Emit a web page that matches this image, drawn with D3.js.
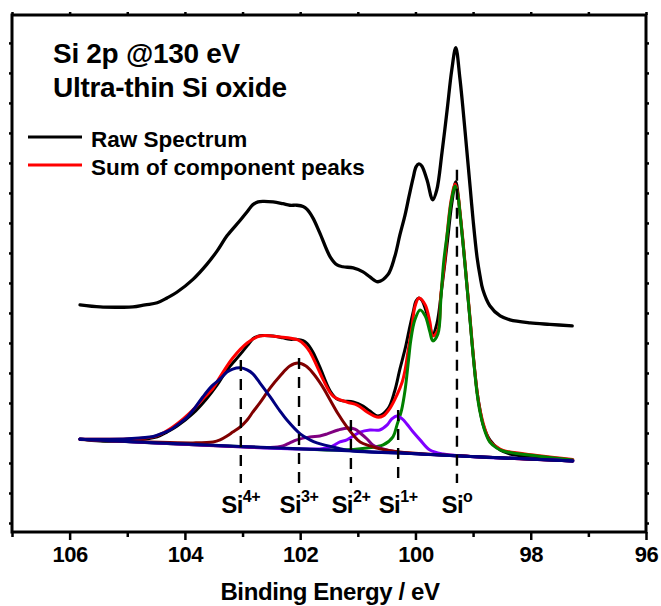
<!DOCTYPE html>
<html>
<head>
<meta charset="utf-8">
<script src="https://cdn.jsdelivr.net/npm/d3@7/dist/d3.min.js"></script>
<style>
  html, body { margin: 0; padding: 0; background: #fff; }
  svg { display: block; font-family: "Liberation Sans", Arial, sans-serif; font-weight: bold; }
</style>
</head>
<body>
<svg id="chart" width="661" height="606"></svg>
<script>
// Si 2p core-level spectrum of an ultra-thin Si oxide: binding energy (eV) vs intensity (a.u.)

// measured spectrum [binding energy, intensity]
const rawSpectrum = [
  [105.82,2.80],[105.47,2.73],[105.13,2.72],[104.90,2.73],[104.69,2.80],[104.48,2.87],[104.31,3.03],
  [104.14,3.22],[103.86,3.65],[103.62,4.15],[103.44,4.60],[103.27,5.10],[103.04,5.62],[102.91,5.93],
  [102.82,6.14],[102.73,6.23],[102.65,6.25],[102.47,6.23],[102.30,6.17],[102.18,6.12],[102.06,6.12],
  [101.95,6.08],[101.88,5.98],[101.78,5.70],[101.66,5.20],[101.48,4.40],[101.36,4.13],[101.26,4.07],
  [101.08,4.03],[100.91,3.90],[100.79,3.73],[100.65,3.57],[100.48,3.80],[100.36,4.40],[100.27,5.13],
  [100.18,5.80],[100.11,6.43],[100.04,7.03],[99.99,7.40],[99.94,7.50],[99.89,7.43],[99.80,6.97],
  [99.70,6.30],[99.63,6.63],[99.54,7.87],[99.45,9.30],[99.37,10.63],[99.30,11.37],[99.23,10.37],
  [99.18,9.43],[99.11,7.97],[99.05,6.70],[99.00,5.63],[98.93,4.37],[98.88,3.77],[98.83,3.30],
  [98.71,2.77],[98.53,2.43],[98.36,2.30],[98.01,2.20],[97.67,2.15],[97.28,2.10]
];
// vertical offset of the displayed raw trace
const rawOffset = 4.47;

// sum of the fitted component peaks
const peakSum = [
  [105.82,2.79],[105.00,2.80],[104.55,2.87],[104.38,3.00],[104.21,3.20],[104.03,3.47],[103.86,3.77],
  [103.69,4.13],[103.51,4.50],[103.39,4.87],[103.17,5.50],[102.92,6.00],[102.70,6.23],[102.35,6.20],
  [102.04,6.10],[101.92,5.93],[101.83,5.70],[101.71,5.23],[101.60,4.77],[101.43,4.23],[101.19,4.03],
  [101.01,3.93],[100.84,3.70],[100.67,3.53],[100.56,3.57],[100.44,3.83],[100.32,4.27],[100.23,4.70],
  [100.18,5.10],[100.13,5.70],[100.06,6.53],[100.01,7.20],[99.94,7.50],[99.83,7.27],[99.75,6.70],
  [99.70,6.23],[99.61,6.43],[99.56,7.60],[99.49,8.77],[99.44,9.83],[99.38,10.77],[99.31,11.30],
  [99.26,10.93],[99.23,10.43],[99.18,9.50],[99.11,8.03],[99.05,6.77],[99.00,5.67],[98.93,4.37],
  [98.88,3.77],[98.79,3.10],[98.71,2.73],[98.59,2.53],[98.48,2.42],[97.89,2.25],[97.27,2.12]
];

// fitted components (each includes the background)
const si0 = [
  [105.82,2.79],[103.74,2.60],[102.00,2.47],[101.31,2.43],[100.84,2.50],[100.56,2.60],[100.39,2.87],
  [100.32,3.27],[100.24,3.77],[100.18,4.43],[100.12,5.43],[100.08,6.10],[100.01,6.77],[99.92,7.10],
  [99.83,6.90],[99.75,6.37],[99.70,6.07],[99.61,6.30],[99.56,7.43],[99.51,8.70],[99.44,9.77],
  [99.38,10.70],[99.31,11.23],[99.26,10.87],[99.23,10.37],[99.18,9.43],[99.11,7.97],[99.05,6.70],
  [99.00,5.60],[98.93,4.30],[98.88,3.70],[98.79,3.03],[98.71,2.70],[98.59,2.50],[98.48,2.40],
  [97.89,2.23],[97.27,2.10]
];
const si1 = [
  [105.82,2.79],[103.74,2.60],[101.66,2.47],[101.48,2.53],[101.31,2.70],[101.19,2.77],[100.96,3.03],
  [100.79,3.10],[100.62,3.10],[100.49,3.27],[100.41,3.47],[100.32,3.57],[100.23,3.47],[100.15,3.30],
  [100.04,3.03],[99.92,2.77],[99.75,2.43],[99.52,2.30],[99.05,2.22],[97.27,2.07]
];
const si2 = [
  [105.82,2.79],[103.74,2.60],[102.52,2.52],[102.30,2.57],[102.18,2.67],[102.06,2.77],[101.83,2.87],
  [101.66,2.90],[101.53,2.97],[101.34,3.10],[101.17,3.17],[101.05,3.13],[100.96,3.00],[100.84,2.80],
  [100.74,2.60],[100.62,2.50],[100.49,2.43],[100.27,2.35],[99.40,2.25],[97.27,2.07]
];
const si3 = [
  [105.82,2.78],[104.61,2.70],[103.86,2.67],[103.51,2.70],[103.39,2.77],[103.27,2.90],[103.17,3.03],
  [103.04,3.20],[102.92,3.43],[102.82,3.70],[102.70,4.00],[102.52,4.50],[102.35,4.90],[102.18,5.23],
  [102.04,5.33],[101.90,5.23],[101.78,5.00],[101.62,4.57],[101.48,4.10],[101.34,3.63],[101.19,3.20],
  [101.08,2.93],[100.96,2.70],[100.79,2.57],[100.62,2.47],[100.27,2.37],[99.05,2.22],[97.27,2.07]
];
const si4 = [
  [105.82,2.79],[105.00,2.81],[104.55,2.88],[104.38,3.00],[104.26,3.10],[104.09,3.33],[103.96,3.53],
  [103.83,3.83],[103.69,4.20],[103.53,4.57],[103.39,4.80],[103.27,5.03],[103.17,5.13],[103.04,5.17],
  [102.92,5.10],[102.82,4.97],[102.70,4.67],[102.52,4.20],[102.35,3.73],[102.23,3.43],[102.00,2.97],
  [101.83,2.77],[101.71,2.67],[101.36,2.50],[101.08,2.40],[100.27,2.33],[99.05,2.22],[97.27,2.07]
];
const background = [
  [105.82,2.79],[104.43,2.67],[103.04,2.55],[101.48,2.43],[100.27,2.33],[99.05,2.22],[97.27,2.07]
];

// oxidation-state markers
const stateLabels = ["4+", "3+", "2+", "1+", "o"];
const stateEnergy = [103.03, 102.02, 101.12, 100.30, 99.28];
const markerTop   = [5.43, 5.50, 3.43, 3.77, 11.77];
const markerBottom = 1.33;
const labelLevel = 0.33;

// axis ticks
const majorTicks = [106, 104, 102, 100, 98, 96];
const minorTicks = [107, 105, 103, 101, 99, 97];
const yTicks = [0, 1, 2, 3, 4, 5, 6, 7, 8, 9, 10, 11, 12, 13, 14, 15, 16];

// text
const titleLines = ["Si 2p @130 eV", "Ultra-thin Si oxide"];
const legendItems = [
  { label: "Raw Spectrum", color: "#000000" },
  { label: "Sum of component peaks", color: "#ff0000" }
];
const xTitle = "Binding Energy / eV";

// ---- layout ----
const svg = d3.select("#chart");
const plotLeft = 12, plotRight = 646, plotTop = 15, plotBottom = 532;

const x = d3.scaleLinear().domain([107, 96]).range([plotLeft, plotRight]);
const y = d3.scaleLinear().domain([-0.3, 16.93]).range([plotBottom, plotTop]);

const line = d3.line()
  .x(d => x(d[0]))
  .y(d => y(d[1]))
  .curve(d3.curveCatmullRom.alpha(0.5));

const lineShifted = d3.line()
  .x(d => x(d[0]))
  .y(d => y(d[1] + rawOffset))
  .curve(d3.curveCatmullRom.alpha(0.5));

function drawCurve(data, color, width, gen) {
  svg.append("path")
    .datum(data)
    .attr("d", gen || line)
    .attr("fill", "none")
    .attr("stroke", color)
    .attr("stroke-width", width)
    .attr("stroke-linejoin", "round")
    .attr("stroke-linecap", "round");
}

// measured spectrum under the fit envelope
drawCurve(rawSpectrum, "#000000", 3);
drawCurve(peakSum, "#ff0000", 3);
drawCurve(si0, "#008000", 3);
drawCurve(si1, "#8000ff", 3);
drawCurve(si2, "#800080", 3);
drawCurve(si3, "#800000", 3);
drawCurve(si4, "#000080", 3);
drawCurve(background, "#000080", 3);

// offset raw trace
drawCurve(rawSpectrum, "#000000", 3.3, lineShifted);

// dashed oxidation-state markers
stateEnergy.forEach((e, i) => {
  svg.append("line")
    .attr("x1", x(e)).attr("x2", x(e))
    .attr("y1", y(markerTop[i])).attr("y2", y(markerBottom))
    .attr("stroke", "#000").attr("stroke-width", 2.4)
    .attr("stroke-dasharray", "11,8");
  const t = svg.append("text")
    .attr("x", x(e)).attr("y", y(labelLevel))
    .attr("text-anchor", "middle")
    .attr("font-size", 24).attr("letter-spacing", -0.6)
    .attr("fill", "#000");
  t.append("tspan").text("Si");
  t.append("tspan").attr("dy", -11).attr("font-size", 16).attr("letter-spacing", -0.4).text(stateLabels[i]);
});

// frame
svg.append("rect")
  .attr("x", plotLeft).attr("y", plotTop)
  .attr("width", plotRight - plotLeft).attr("height", plotBottom - plotTop)
  .attr("fill", "none").attr("stroke", "#000").attr("stroke-width", 3);

function styleAxis(g) {
  g.select(".domain").remove();
  g.selectAll(".tick line").attr("stroke", "#000").attr("stroke-width", 2.5);
}

// bottom axis: labelled majors and minors
svg.append("g").attr("transform", `translate(0,${plotBottom})`)
  .call(d3.axisBottom(x).tickValues(majorTicks).tickSize(8).tickFormat(d3.format("d")))
  .call(styleAxis)
  .call(g => g.selectAll(".tick text")
    .attr("y", 30).attr("dy", 0)
    .attr("font-family", "Liberation Sans, Arial, sans-serif")
    .attr("font-weight", "bold").attr("font-size", 22).attr("letter-spacing", -0.4)
    .attr("fill", "#000"));
svg.append("g").attr("transform", `translate(0,${plotBottom})`)
  .call(d3.axisBottom(x).tickValues(minorTicks).tickSize(5).tickFormat(""))
  .call(styleAxis);

// top axis ticks
svg.append("g").attr("transform", `translate(0,${plotTop})`)
  .call(d3.axisTop(x).tickValues(majorTicks.concat(minorTicks)).tickSize(3).tickFormat(""))
  .call(styleAxis);

// left and right axis ticks (unlabelled intensity)
svg.append("g").attr("transform", `translate(${plotLeft},0)`)
  .call(d3.axisLeft(y).tickValues(yTicks).tickSize(3).tickFormat(""))
  .call(styleAxis);
svg.append("g").attr("transform", `translate(${plotRight},0)`)
  .call(d3.axisRight(y).tickValues(yTicks).tickSize(3).tickFormat(""))
  .call(styleAxis);

// title
titleLines.forEach((s, i) => {
  svg.append("text")
    .attr("x", 53).attr("y", 63 + i * 34)
    .attr("font-size", 28).attr("letter-spacing", -0.3)
    .attr("fill", "#000").text(s);
});

// legend
legendItems.forEach((d, i) => {
  const ly = 137 + i * 28;
  svg.append("line")
    .attr("x1", 28).attr("x2", 82).attr("y1", ly).attr("y2", ly)
    .attr("stroke", d.color).attr("stroke-width", 3);
  svg.append("text")
    .attr("x", 91).attr("y", ly + 9.5)
    .attr("font-size", 22.5)
    .attr("fill", "#000").text(d.label);
});

// x-axis title
svg.append("text")
  .attr("x", 330).attr("y", 600)
  .attr("text-anchor", "middle")
  .attr("font-size", 24).attr("letter-spacing", -0.4)
  .attr("fill", "#000").text(xTitle);
</script>
</body>
</html>
